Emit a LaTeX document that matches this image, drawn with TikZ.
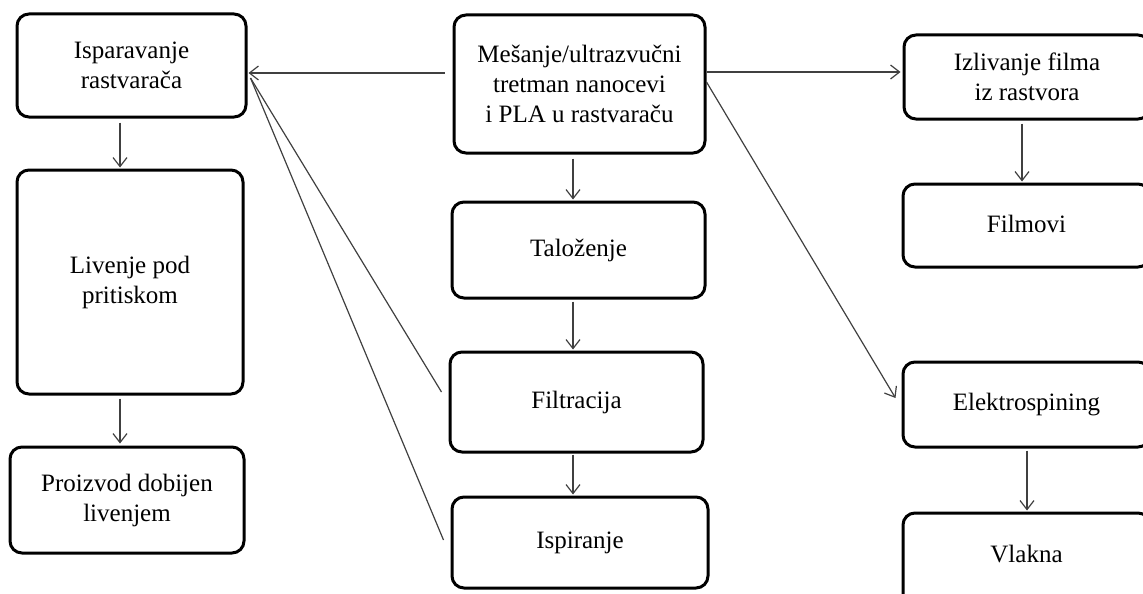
\documentclass[tikz,border=0pt]{standalone}
\usepackage{fontspec}
\setmainfont{Liberation Serif}
\usetikzlibrary{arrows.meta}
\begin{document}
\begin{tikzpicture}[x=1pt,y=-1pt,
  box/.style={draw=black,line width=3pt,rounded corners=12pt,align=center,
    inner sep=0pt,font=\fontsize{25}{30}\selectfont},
  conn/.style={draw=black!75,line width=1.2pt},
  arr/.style={conn,-{Straight Barb[length=9pt,width=14pt,line width=1.2pt]}}]
\useasboundingbox (0,0) rectangle (1143,594);
\clip (0,0) rectangle (1143,594);
\node[box,minimum width=229pt,minimum height=103pt] (A) at (131.5,65.5) {Isparavanje\\rastvarača};
\node[box,minimum width=226pt,minimum height=224pt] (B) at (130,282) {Livenje pod\\pritiskom};
\node[box,minimum width=234pt,minimum height=106pt] (C) at (127,500) {Proizvod dobijen\\livenjem};
\node[box,minimum width=251pt,minimum height=138pt] (D) at (579.5,84) {Mešanje/ultrazvučni\\tretman nanocevi\\i PLA u rastvaraču};
\node[box,minimum width=253pt,minimum height=96pt] (E) at (578.5,250) {Taloženje};
\node[box,minimum width=253pt,minimum height=100pt] (F) at (576.5,402) {Filtracija};
\node[box,minimum width=256pt,minimum height=91pt] (G) at (580,542.5) {Ispiranje};
\node[box,minimum width=246pt,minimum height=84pt] (H) at (1027,77) {Izlivanje filma\\iz rastvora};
\node[box,minimum width=247pt,minimum height=83pt] (I) at (1026.5,225.5) {\raisebox{2pt}[\height][\depth]{Filmovi}};
\node[box,minimum width=247pt,minimum height=85pt] (J) at (1026.5,404.5) {Elektrospining};
\node[box,minimum width=247pt,minimum height=97pt] (K) at (1026.5,561.5) {\raisebox{7pt}[\height][\depth]{Vlakna}};
% vertical arrows
\draw[arr] ([shift={(-11.5,4)}]A.south) -- ([shift={(-10,-1)}]B.north);
\draw[arr] ([shift={(-10,3)}]B.south) -- ([shift={(-7,-2)}]C.north);
\draw[arr] ([shift={(-6.5,4)}]D.south) -- ([shift={(-5.5,-1)}]E.north);
\draw[arr] ([shift={(-5.5,2)}]E.south) -- ([shift={(-3.5,-1)}]F.north);
\draw[arr] ([shift={(-3.5,1)}]F.south) -- ([shift={(-7,-1)}]G.north);
\draw[arr] ([shift={(-5,3)}]H.south) -- ([shift={(-4.5,-1)}]I.north);
\draw[arr] ([shift={(0.5,2)}]J.south) -- ([shift={(0.5,-1)}]K.north);
% from mixing
\draw[arr] ([shift={(-8,-11)}]D.west) -- ([shift={(1,7.5)}]A.east);
\draw[arr] ([shift={(0,-12)}]D.east) -- ([shift={(-2,-5)}]H.west);
\draw[arr] ([shift={(0,-2)}]D.east) -- ([shift={(-6,-6.5)}]J.west);
% back to evaporation
\draw[conn] ([shift={(-7,-10)}]F.west) -- ([shift={(3,12.5)}]A.east);
\draw[conn] ([shift={(-7,-2.5)}]G.west) -- ([shift={(3,12.5)}]A.east);
\end{tikzpicture}
\end{document}
